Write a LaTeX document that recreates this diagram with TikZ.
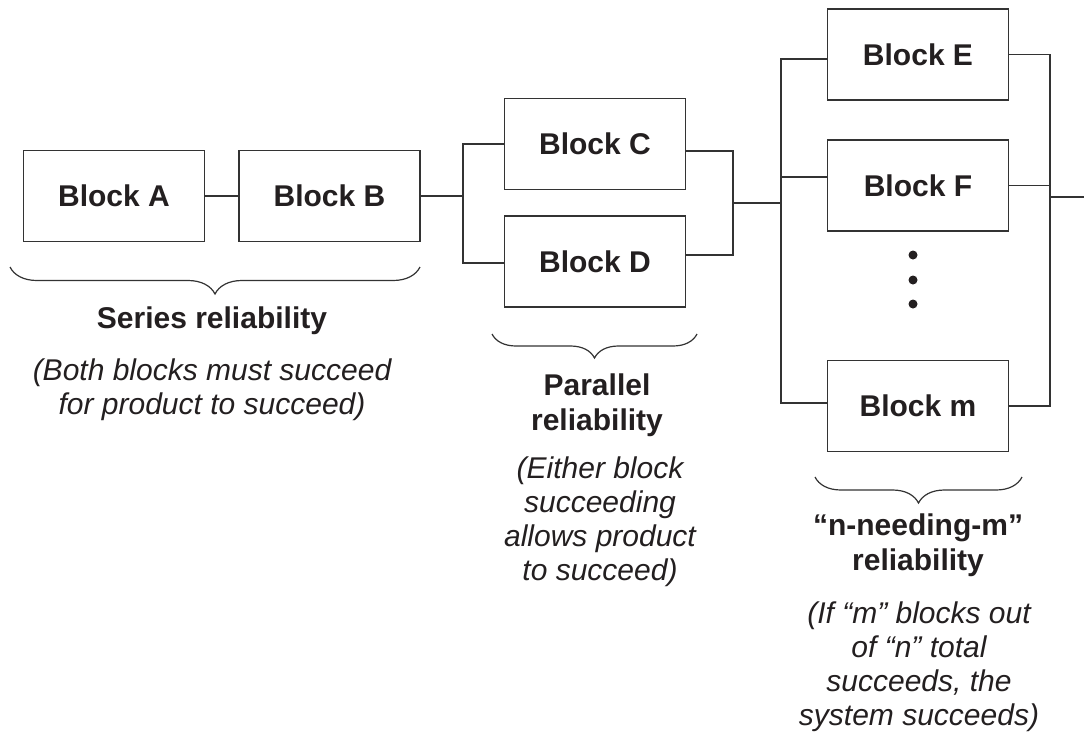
\documentclass[tikz,border=0pt]{standalone}
\usepackage{fontspec}
\setmainfont{Liberation Sans}
\usepackage{tikz}
\usetikzlibrary{positioning,decorations.pathreplacing}

\definecolor{inkgray}{HTML}{333333}
\definecolor{textblack}{HTML}{231F20}

\tikzset{
	block/.style={draw=inkgray, line width=1.4pt, fill=white, minimum width=181pt,
		minimum height=91pt, inner sep=0pt, text=textblack,
		font=\fontsize{30}{34}\selectfont\bfseries},
	wire/.style={draw=inkgray, line width=1.4pt},
	curly/.style={draw=inkgray, line width=1.2pt, decorate,
		decoration={brace, mirror, amplitude=#1}},
	title/.style={align=center, text=textblack, inner sep=0pt,
		font=\fontsize{30}{35}\selectfont\bfseries},
	remark/.style={align=center, text=textblack, inner sep=0pt,
		font=\fontsize{30}{34}\selectfont\itshape}
}

\begin{document}
\begin{tikzpicture}[x=1pt, y=-1pt]
	\useasboundingbox (0,0) rectangle (1084,737);

	% Blocks {A, B, C, D, E, F, m}
	\node [block] (A) at (114,196)   {Block A};
	\node [block] (B) at (329.5,196) {Block B};
	\node [block] (C) at (595,144)   {Block C};
	\node [block] (D) at (595,261.5) {Block D};
	\node [block] (E) at (918,54.5)  {Block E};
	\node [block] (F) at (918,185.5) {Block F};
	\node [block] (M) at (918,406)   {Block m};

	% Junctions
	\coordinate (j1)  at (463,196);
	\coordinate (j2)  at (733,203);
	\coordinate (j3)  at (781,203);
	\coordinate (j4)  at (1050,197);
	\coordinate (out) at (1084,197);

	% Series
	\path [wire] (A) -- (B);
	\path [wire] (B.east) -- (j1);

	% Parallel
	\path [wire] (C.west) -| (j1) |- ([yshift=-1.5pt]D.west);
	\path [wire] ([yshift=-7pt]C.east) -| (j2) |- ([yshift=6.5pt]D.east);
	\path [wire] (j2) -- (j3);

	% n-needing-m
	\path [wire] ([yshift=-4.5pt]E.west) -| (j3) |- ([yshift=3pt]M.west);
	\path [wire] ([yshift=8.5pt]F.west) -- ([yshift=8.5pt]F.west -| j3);
	\path [wire] (E.east) -| (j4) |- (M.east);
	\path [wire] (F.east) -- (F.east -| j4);
	\path [wire] (j4) -- (out);

	% Dots
	\foreach \y in {255,280,304}
		\fill [textblack] (913,\y) circle (4.5);

	% Braces
	\path [curly=27pt] (10,267)  -- (420,267);
	\path [curly=24pt] (492,334) -- (697,334);
	\path [curly=26pt] (815,477) -- (1022,477);

	% Labels
	\node [title]  (series)  at (212,321)   {Series reliability};
	\node [remark] (seriesr) at (212,389.5) {(Both blocks must succeed\\for product to succeed)};

	\node [title]  (par)  at (597,405.5) {Parallel\\reliability};
	\node [remark] (parr) at (600,522)   {(Either block\\succeeding\\allows product\\to succeed)};

	\node [title]  (nm)  at (918,545.5) {“n-needing-m”\\reliability};
	\node [remark] (nmr) at (919,667)   {(If “m” blocks out\\of “n” total\\succeeds, the\\system succeeds)};
\end{tikzpicture}
\end{document}
